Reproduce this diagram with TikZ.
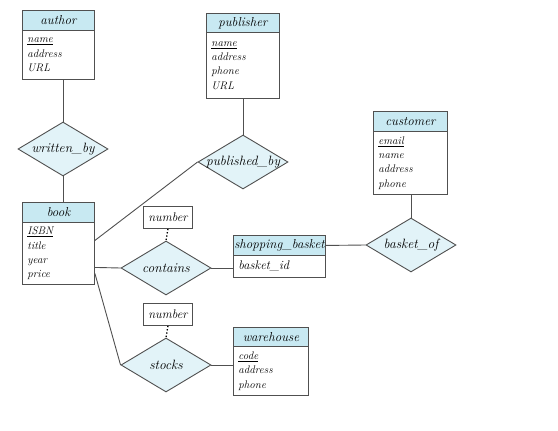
\documentclass[tikz,border=0pt]{standalone}
\usetikzlibrary{shapes.geometric}
\definecolor{hdrblue}{RGB}{200,233,242}
\definecolor{relblue}{RGB}{226,243,248}
\definecolor{edgegray}{RGB}{80,80,80}
\begin{document}
\begin{tikzpicture}[x=1pt,y=-1pt,
  hdr/.style={draw=edgegray, fill=hdrblue, line width=0.9pt, minimum height=20pt, inner sep=0pt, anchor=north west, font=\fontsize{13}{15}\selectfont\itshape},
  body/.style={draw=edgegray, fill=white, line width=0.9pt, align=left, inner xsep=5pt, inner ysep=0pt, anchor=north west, font=\fontsize{11}{14.3}\selectfont\itshape},
  rel/.style={diamond, draw=edgegray, fill=relblue, line width=0.9pt, minimum width=90pt, minimum height=54pt, inner sep=0pt, aspect=1.667, font=\fontsize{13.5}{15}\selectfont\itshape},
  attrbox/.style={draw=edgegray, fill=white, line width=0.9pt, minimum width=49pt, minimum height=22pt, inner sep=0pt, anchor=north west, font=\fontsize{12.5}{14}\selectfont\itshape},
  conn/.style={draw=edgegray, line width=0.9pt},
  dotconn/.style={draw=black, line width=1.3pt, dash pattern=on 1.3pt off 2pt}]
\useasboundingbox (0,0) rectangle (558,431);
% author
\node[hdr, minimum width=72pt] (author) at (22,10) {author};
\node[body, text width=62pt, minimum height=49pt] (authorb) at (22,30) {\underline{name}\\address\\URL};
% publisher
\node[hdr, minimum width=73pt] (publisher) at (206,13) {publisher};
\node[body, text width=63pt, minimum height=66pt] (publisherb) at (206,32) {\underline{name}\\address\\phone\\URL};
% book
\node[hdr, minimum width=72pt] (book) at (22,202) {book};
\node[body, text width=62pt, minimum height=62pt] (bookb) at (22,222) {\underline{ISBN}\\title\\year\\price};
% customer
\node[hdr, minimum width=74pt] (customer) at (373,111) {customer};
\node[body, text width=64pt, minimum height=63pt] (customerb) at (373,131) {\underline{email}\\name\\address\\phone};
% shopping basket
\node[hdr, minimum width=92pt] (basket) at (233,235) {shopping\_basket};
\node[body, text width=82pt, minimum height=22pt, font=\fontsize{12.5}{14}\selectfont\itshape] (basketb) at (233,255) {basket\_id};
% warehouse
\node[hdr, minimum width=75pt] (warehouse) at (233,327) {warehouse};
\node[body, text width=65pt, minimum height=49pt] (warehouseb) at (233,346) {\underline{code}\\address\\phone};
% relationships
\node[rel] (writtenby) at (63,149) {\makebox[0pt]{written\_by}};
\node[rel] (publishedby) at (243,162) {\makebox[0pt]{published\_by}};
\node[rel] (basketof) at (411,245) {\makebox[0pt]{basket\_of}};
\node[rel] (contains) at (166,268) {\makebox[0pt]{contains}};
\node[rel] (stocks) at (166,365) {\makebox[0pt]{stocks}};
% number boxes
\node[attrbox] (num1) at (143,206) {number};
\node[attrbox] (num2) at (143,303) {number};
% connectors
\draw[conn] (authorb.south -| writtenby.north) -- (writtenby.north);
\draw[conn] (writtenby.south) -- (writtenby.south |- book.north);
\draw[conn] (publisherb.south -| publishedby.north) -- (publishedby.north);
\draw[conn] ([yshift=13pt]bookb.east) -- (publishedby.west);
\draw[conn] ([yshift=-14pt]bookb.east) -- (contains.west);
\draw[conn] ([yshift=-20pt]bookb.east) -- (stocks.west);
\draw[conn] (contains.east) -- (contains.east -| basketb.west);
\draw[conn] (stocks.east) -- (stocks.east -| warehouseb.west);
\draw[conn] (basket.east) -- (basketof.west);
\draw[conn] (customerb.south -| basketof.north) -- (basketof.north);
\draw[dotconn] (num1.south) -- (contains.north);
\draw[dotconn] (num2.south) -- (stocks.north);
\end{tikzpicture}
\end{document}
